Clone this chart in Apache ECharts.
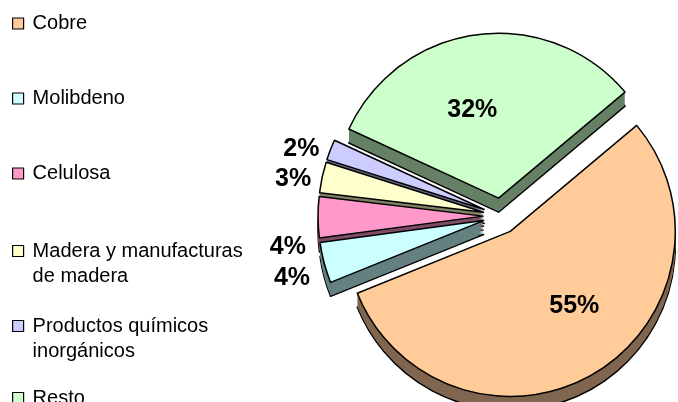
<!DOCTYPE html>
<html><head><meta charset="utf-8">
<script src="https://cdn.jsdelivr.net/npm/echarts@6/dist/echarts.min.js"></script>
<style>html,body{margin:0;padding:0;background:#fff}#c{width:678px;height:402px}</style>
</head><body><div id="c"></div>
<script>
// ---- data ----
const categories = ['Cobre', 'Molibdeno', 'Celulosa', 'Madera y manufacturas de madera', 'Productos químicos inorgánicos', 'Resto'];
const shares = [55, 4, 4, 3, 2, 32];
const legendLabels = ['Cobre', 'Molibdeno', 'Celulosa', 'Madera y manufacturas\nde madera', 'Productos químicos\ninorgánicos', 'Resto'];

// ---- styles ----
const topColors = ['#FFCC99', '#CCFFFF', '#FF99CC', '#FFFFCC', '#CCCCFF', '#CCFFCC'];
const sideColors = ['#806650', '#668080', '#804D66', '#808066', '#666680', '#668066'];
const labelInside = [true, false, false, false, false, true];
const labelShift = [[20, 1], [-3, 15], [-1, 30], [0, 2], [0, -1], [-15, -3]];
const legendIconCenters = [23.5, 98.5, 173.5, 251, 326, 398];
const FONT = "'Liberation Sans', Arial, sans-serif";
const CENTER = [501, 216];
const RADIUS = 165;
const DEPTH = 14;

const chart = echarts.init(document.getElementById('c'), null, {renderer: 'canvas'});

function topData() {
  return categories.map((n, i) => ({
    name: n, value: shares[i], selected: true,
    itemStyle: {color: topColors[i]},
    label: {position: labelInside[i] ? 'inside' : 'outside'}
  }));
}
function sideData(bordered) {
  return categories.map((n, i) => ({
    name: n, value: shares[i], selected: true,
    itemStyle: {color: sideColors[i], borderColor: bordered ? '#000' : sideColors[i], borderWidth: bordered ? 1.5 : 0}
  }));
}

const series = [{
  type: 'pie',
  name: 'top',
  z: 10,
  center: CENTER,
  radius: RADIUS,
  startAngle: 40,
  clockwise: true,
  selectedMode: 'multiple',
  selectedOffset: 18,
  avoidLabelOverlap: false,
  animation: false,
  itemStyle: {borderColor: '#000', borderWidth: 1.5},
  emphasis: {disabled: true},
  label: {
    show: true,
    formatter: '{c}%',
    color: '#000',
    fontFamily: FONT,
    fontWeight: 'bold',
    fontSize: 25
  },
  labelLine: {show: false, length: 0, length2: 6},
  labelLayout: function (p) {
    const s = labelShift[p.dataIndex] || [0, 0];
    return {dx: s[0], dy: s[1]};
  },
  data: topData()
}];
for (let k = DEPTH; k >= 1; k--) {
  series.push({
    type: 'pie',
    name: 'side' + k,
    z: 2,
    silent: true,
    center: [CENTER[0], CENTER[1] + k],
    radius: RADIUS,
    startAngle: 40,
    clockwise: true,
    selectedMode: 'multiple',
    selectedOffset: 18,
    animation: false,
    label: {show: false},
    labelLine: {show: false},
    emphasis: {disabled: true},
    data: sideData(k === DEPTH)
  });
}

const legends = categories.map((n, i) => {
  const multi = legendLabels[i].indexOf('\n') >= 0;
  const boxHalf = multi ? 37.5 : 12.5;
  return {
    orient: 'vertical',
    left: 12,
    top: legendIconCenters[i] - boxHalf,
    padding: 0,
    icon: 'rect',
    itemWidth: 11,
    itemHeight: 11,
    selectedMode: false,
    itemStyle: {borderColor: '#000', borderWidth: 1.2},
    textStyle: {
      fontFamily: FONT, fontSize: 20, color: '#000', lineHeight: 25,
      padding: [0, 0, 0, 4]
    },
    formatter: () => (multi ? '\n' : '') + legendLabels[i],
    data: [n]
  };
});

chart.setOption({
  animation: false,
  backgroundColor: '#fff',
  legend: legends,
  series: series
});
</script></body></html>
